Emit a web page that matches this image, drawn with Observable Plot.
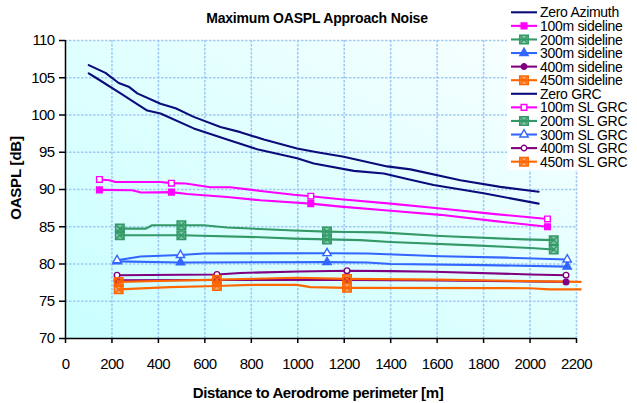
<!DOCTYPE html>
<html><head><meta charset="utf-8">
<script src="https://cdn.jsdelivr.net/npm/d3@7"></script>
<script src="https://cdn.jsdelivr.net/npm/@observablehq/plot@0.6"></script>
<style>
html,body{margin:0;padding:0;background:#fff;}
#chart{position:relative;width:637px;height:403px;}
</style></head><body><div id="chart"></div>
<script>
// ---- Data (distance [m], OASPL [dB]) ----
const xTicks = [0,200,400,600,800,1000,1200,1400,1600,1800,2000,2200];
const yTicks = [70,75,80,85,90,95,100,105,110];

const zeroAzimuth = [[100,105.6],[136,104.9],[237,102.9],[272,102.2],[352,100.6],[409,100.2],[552,98.2],[696,96.7],[825,95.4],[997,94.2],[1069,93.5],[1241,92.5],[1370,92.15],[1485,91.3],[1585,90.6],[1800,89.5],[2037,88.1]];
const zeroGRC = [[100,106.7],[172,105.65],[229,104.3],[272,103.8],[309,102.9],[409,101.5],[474,100.9],[552,99.75],[667,98.4],[753,97.7],[854,96.7],[997,95.5],[1083,95.0],[1198,94.4],[1385,93.1],[1485,92.7],[1700,91.25],[1872,90.35],[2037,89.7]];

const sideline100 = [[146,89.95],[287,89.9],[325,89.6],[456,89.65],[524,89.4],[696,89.0],[839,88.55],[1056,88.1],[1185,87.7],[1400,87.15],[1614,86.6],[1850,85.75],[2075,85.0]];
const slGRC100 = [[146,91.35],[190,91.25],[215,91.0],[409,91.0],[456,90.85],[517,90.8],[624,90.3],[710,90.3],[840,89.8],[983,89.3],[1056,89.1],[1185,88.7],[1400,88.1],[1614,87.45],[1850,86.7],[2075,86.05]];

const sideline200 = [[234,83.85],[409,83.85],[499,83.85],[839,83.6],[983,83.4],[1126,83.3],[1270,83.2],[1399,82.95],[1757,82.5],[2002,82.15],[2102,81.95]];
const slGRC200 = [[234,84.75],[346,84.75],[373,85.2],[499,85.2],[595,85.2],[696,84.9],[983,84.5],[1126,84.35],[1212,84.3],[1356,84.25],[1614,83.75],[1973,83.3],[2102,83.2]];

const sideline300 = [[222,80.35],[495,80.2],[1126,80.25],[1300,80.2],[1400,80.0],[1800,79.85],[2160,79.65]];
const slGRC300 = [[222,80.5],[323,81.0],[495,81.2],[595,81.4],[1126,81.45],[1300,81.4],[1614,81.05],[1900,80.85],[2160,80.6]];

const sideline400 = [[222,77.8],[652,77.85],[1212,77.85],[1600,77.8],[2155,77.6]];
const slGRC400 = [[222,78.5],[500,78.55],[652,78.6],[753,78.8],[1003,79.0],[1212,79.1],[1400,79.05],[1585,78.95],[2002,78.6],[2155,78.5]];

const sideline450 = [[229,76.6],[450,76.9],[652,77.05],[800,77.2],[997,77.2],[1055,76.9],[1212,76.8],[2000,76.75],[2085,76.6],[2218,76.6]];
const slGRC450 = [[229,77.6],[450,77.75],[652,77.9],[997,78.15],[1212,78.0],[1600,77.9],[2000,77.7],[2218,77.6]];

const markers100 = [146,456,1056,2075];
const markers200 = [234,499,1126,2102];
const markers300 = [222,495,1126,2160];
const markers400 = [222,652,1212,2155];
const markers450 = [229,652,1212];

const legendNames = ["Zero Azimuth","100m sideline","200m sideline","300m sideline","400m sideline","450m sideline","Zero GRC","100m SL GRC","200m SL GRC","300m SL GRC","400m SL GRC","450m SL GRC"];

// ---- Styles ----
const NAVY="#0b0b7a", MAG="#ff00ff", GRN="#339966", BLU="#3366ff", PUR="#800080", ORG="#ff6600";
const series = [
  {name:legendNames[0], data:zeroAzimuth, color:NAVY, sym:null},
  {name:legendNames[1], data:sideline100, color:MAG, sym:"square", r:3.2, hollow:false, m:markers100},
  {name:legendNames[2], data:sideline200, color:GRN, sym:"xbox", r:4.8, m:markers200},
  {name:legendNames[3], data:sideline300, color:BLU, sym:"triangle", r:3.1, hollow:false, m:markers300},
  {name:legendNames[4], data:sideline400, color:PUR, sym:"circle", r:2.8, hollow:false, m:markers400},
  {name:legendNames[5], data:sideline450, color:ORG, sym:"xbox", r:4.8, m:markers450},
  {name:legendNames[6], data:zeroGRC, color:NAVY, sym:null},
  {name:legendNames[7], data:slGRC100, color:MAG, sym:"square", r:3.2, hollow:true, m:markers100},
  {name:legendNames[8], data:slGRC200, color:GRN, sym:"xbox", r:4.8, m:markers200},
  {name:legendNames[9], data:slGRC300, color:BLU, sym:"triangle", r:3.1, hollow:true, m:markers300},
  {name:legendNames[10], data:slGRC400, color:PUR, sym:"circle", r:2.8, hollow:true, m:markers400},
  {name:legendNames[11], data:slGRC450, color:ORG, sym:"xbox", r:4.8, m:markers450}
];

const toRows = arr => arr.map(([x,y]) => ({x, y}));

const marks = [
  Plot.frame({fill:"#d6ffff", stroke:null}),
  Plot.gridX(xTicks.slice(1), {stroke:"#9fcaf7", strokeOpacity:1, strokeWidth:1.6, strokeDasharray:"2.5,1.5"}),
  Plot.gridY(yTicks.slice(1), {stroke:"#9fcaf7", strokeOpacity:1, strokeWidth:1.6, strokeDasharray:"2.5,1.5"})
];
for (const s of series) {
  marks.push(Plot.line(toRows(s.data), {x:"x", y:"y", stroke:s.color, strokeWidth:2.1}));
}
for (const s of series) {
  if (!s.sym) continue;
  const pts = toRows(s.data).filter(d => s.m.includes(d.x));
  if (s.sym === "xbox") {
    marks.push(Plot.dot(pts, {x:"x", y:"y", symbol:"square", r:s.r, fill:s.color, fillOpacity:0.55, stroke:s.color, strokeWidth:1.5}));
    marks.push(Plot.dot(pts, {x:"x", y:"y", symbol:"times", r:3.2, stroke:s.color, strokeWidth:1.3}));
  } else {
    marks.push(Plot.dot(pts, {x:"x", y:"y", symbol:s.sym, r:s.r, fill:s.hollow ? "white" : s.color, stroke:s.color, strokeWidth:1.4}));
  }
}
marks.push(
  Plot.ruleX([0], {stroke:"black", strokeWidth:1.5}),
  Plot.ruleY([70], {stroke:"black", strokeWidth:1.5}),
  Plot.axisX({ticks:xTicks, tickSize:5, tickPadding:15, stroke:"black", strokeWidth:1.5, label:null, tickFormat:d=>String(d), fontSize:15}),
  Plot.axisY({ticks:yTicks, tickSize:6, tickPadding:5, stroke:"black", strokeWidth:1.5, label:null, tickFormat:d=>String(d), fontSize:15})
);

const svg = Plot.plot({
  width:637, height:403,
  marginLeft:65, marginRight:61, marginTop:40, marginBottom:65,
  x:{domain:[0,2200]},
  y:{domain:[70,110]},
  style:{fontFamily:"'Liberation Sans', Arial, sans-serif", fontSize:"15px", color:"black", background:"white", overflow:"visible"},
  marks
});

const root = d3.select(svg);
const defs = root.insert("defs", ":first-child");
const grad = defs.append("linearGradient").attr("id","bgGrad").attr("x1","0").attr("y1","1").attr("x2","1").attr("y2","0");
grad.append("stop").attr("offset","0%").attr("stop-color","#c9ffff");
grad.append("stop").attr("offset","55%").attr("stop-color","#e2ffff");
grad.append("stop").attr("offset","100%").attr("stop-color","#fbffff");
let fr = svg.querySelector('[aria-label="frame"]');
if (fr) { const rr = fr.tagName.toLowerCase()==="rect" ? fr : fr.querySelector("rect"); if (rr) rr.setAttribute("fill","url(#bgGrad)"); }

root.selectAll('[aria-label="x-axis tick label"] text, [aria-label="y-axis tick label"] text').style("letter-spacing","-0.6px");

root.append("text").attr("x",317).attr("y",23).attr("text-anchor","middle")
  .attr("font-weight","bold").attr("font-size",14).attr("letter-spacing","-0.2px").text("Maximum OASPL Approach Noise");
root.append("text").attr("x",318).attr("y",398).attr("text-anchor","middle")
  .attr("font-weight","bold").attr("font-size",15).attr("letter-spacing","-0.4px").text("Distance to Aerodrome perimeter [m]");
root.append("text").attr("transform","translate(21,178) rotate(-90)").attr("text-anchor","middle")
  .attr("font-weight","bold").attr("font-size",15).attr("letter-spacing","-0.2px").text("OASPL [dB]");

const lg = root.append("g").attr("text-anchor","start");
lg.append("rect").attr("x",507).attr("y",0).attr("width",130).attr("height",170).attr("fill","white");
series.forEach((s,i) => {
  const yc = 12.3 + i*13.58;
  lg.append("line").attr("x1",511).attr("x2",537).attr("y1",yc).attr("y2",yc).attr("stroke",s.color).attr("stroke-width",2.1);
  const sx = 524;
  if (s.sym === "xbox") {
    const sq = d3.symbol(d3.symbolSquare, Math.PI*s.r*s.r)();
    lg.append("path").attr("d",sq).attr("transform",`translate(${sx},${yc})`).attr("fill",s.color).attr("fill-opacity",0.55).attr("stroke",s.color).attr("stroke-width",1.5);
    lg.append("path").attr("d",d3.symbol(d3.symbolTimes, Math.PI*3.2*3.2)()).attr("transform",`translate(${sx},${yc})`).attr("fill","none").attr("stroke",s.color).attr("stroke-width",1.3);
  } else if (s.sym) {
    const type = s.sym==="square" ? d3.symbolSquare : s.sym==="triangle" ? d3.symbolTriangle : d3.symbolCircle;
    lg.append("path").attr("d",d3.symbol(type, Math.PI*s.r*s.r)()).attr("transform",`translate(${sx},${yc})`)
      .attr("fill",s.hollow?"white":s.color).attr("stroke",s.color).attr("stroke-width",1.4);
  }
  lg.append("text").attr("x",540).attr("y",yc).attr("dy","0.36em").attr("text-anchor","start").attr("font-size",14).attr("letter-spacing","-0.3px").text(s.name);
});

document.getElementById("chart").appendChild(svg);
</script></body></html>
